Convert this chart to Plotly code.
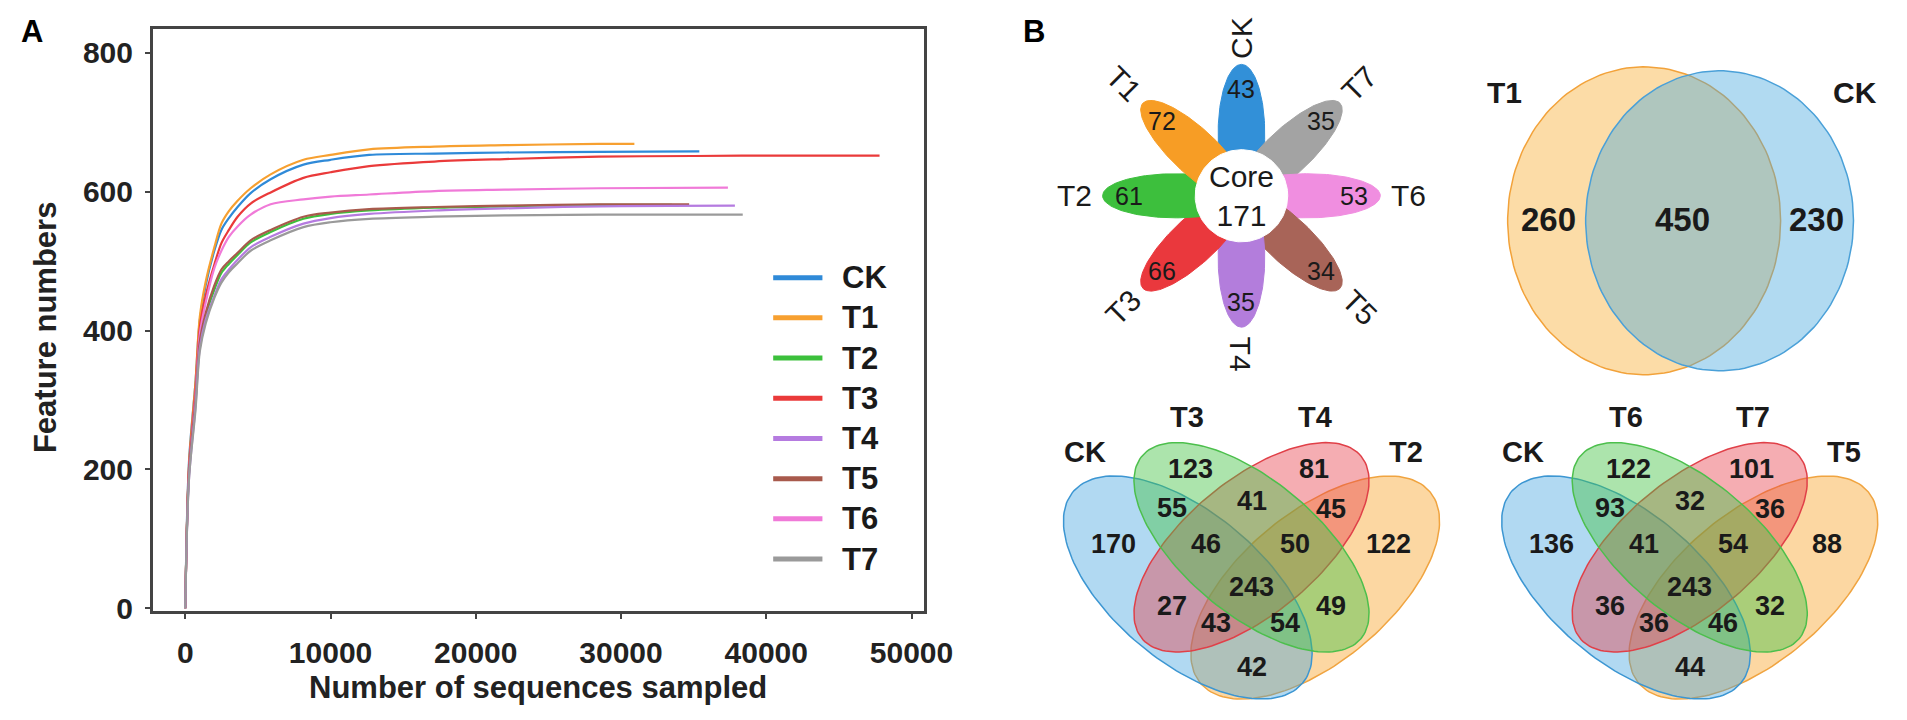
import numpy as np
import plotly.graph_objects as go

W, H = 1907, 720
FONT = "Liberation Sans, Arial, sans-serif"

# ---------------- Panel A data (rarefaction curves) ----------------
series_names = ["CK", "T1", "T2", "T3", "T4", "T5", "T6", "T7"]
series_colors = ["#2f8ad8", "#f7a030", "#3cc03c", "#ea3a3a", "#b57be0", "#a85a4c", "#f07ad8", "#9a9a9a"]

ck_x = [0, 250, 700, 1000, 1400, 2000, 2486, 3000, 3600, 4500, 5876, 8136, 10000, 12660, 17160, 22000, 28476, 35390]
ck_y = [0, 210, 325, 415, 465, 515, 545, 562, 578, 598, 618, 639, 646, 653, 655, 656.5, 657.5, 658]
t1_x = [0, 250, 700, 1000, 1400, 2000, 2486, 3000, 3600, 4500, 5876, 8136, 10000, 12660, 17160, 22000, 28476, 30920]
t1_y = [0, 205, 325, 420, 470, 520, 554, 572, 587, 605, 625, 646, 653, 661, 665, 667, 669, 669]
t2_x = [0, 250, 700, 1000, 1400, 2000, 2486, 3000, 3600, 4500, 5876, 8136, 10000, 12660, 17160, 22000, 28476, 33500]
t2_y = [0, 192, 296, 381, 421, 459, 483, 496, 509, 527, 542, 561, 568, 573, 577, 579, 581, 581]
t3_x = [0, 250, 700, 1000, 1400, 2000, 2486, 3000, 3600, 4500, 5876, 8136, 10000, 12660, 17160, 22000, 28476, 35000, 40000, 47800]
t3_y = [0, 200, 315, 405, 450, 495, 526, 545, 564, 583, 599, 620, 628, 637, 643.5, 647, 650.5, 651.5, 652, 652]
t4_x = [0, 250, 700, 1000, 1400, 2000, 2486, 3000, 3600, 4500, 5876, 8136, 10000, 12660, 17160, 22000, 28476, 37840]
t4_y = [0, 185, 290, 375, 415, 450, 474, 488, 502, 520, 535, 554, 562, 568, 573, 576, 579, 580]
t5_x = [0, 250, 700, 1000, 1400, 2000, 2486, 3000, 3600, 4500, 5876, 8136, 10000, 12660, 17160, 22000, 28476, 34690]
t5_y = [0, 195, 300, 385, 425, 465, 488, 500, 512, 530, 545, 564, 570, 575, 578, 580, 582, 582]
t6_x = [0, 250, 700, 1000, 1400, 2000, 2486, 3000, 3600, 4500, 5876, 8136, 10000, 12660, 17160, 22000, 28476, 37360]
t6_y = [0, 195, 305, 395, 440, 490, 515, 535, 550, 567, 582, 589, 593, 596, 601, 603, 605, 606]
t7_x = [0, 250, 700, 1000, 1400, 2000, 2486, 3000, 3600, 4500, 5876, 8136, 10000, 12660, 17160, 22000, 28476, 38380]
t7_y = [0, 185, 285, 370, 410, 447, 469, 484, 497, 515, 530, 549, 556, 561, 564, 566, 567, 567]

curves = {"CK": (ck_x, ck_y), "T1": (t1_x, t1_y), "T2": (t2_x, t2_y), "T3": (t3_x, t3_y),
          "T4": (t4_x, t4_y), "T5": (t5_x, t5_y), "T6": (t6_x, t6_y), "T7": (t7_x, t7_y)}

x_tick_vals = [0, 10000, 20000, 30000, 40000, 50000]
x_tick_text = ["0", "10000", "20000", "30000", "40000", "50000"]
y_tick_vals = [0, 200, 400, 600, 800]
y_tick_text = ["0", "200", "400", "600", "800"]
x_title = "Number of sequences sampled"
y_title = "Feature numbers"

# ---------------- Panel B data ----------------
flower_groups = ["CK", "T7", "T6", "T5", "T4", "T3", "T2", "T1"]
flower_unique = [43, 35, 53, 34, 35, 66, 61, 72]
flower_colors = ["#3290d8", "#a3a3a3", "#f08ee0", "#a86458", "#b37ddc", "#ea383d", "#3dbf3d", "#f79d25"]
flower_core = 171

venn2_sets = ["T1", "CK"]
venn2_counts = [260, 450, 230]   # T1 only, shared, CK only

region_keys = ["A", "B", "C", "D", "AB", "BC", "CD", "AD", "AC", "BD", "ABC", "BCD", "ACD", "ABD", "ABCD"]
venn4a_sets = ["CK", "T3", "T4", "T2"]
venn4a_counts = [170, 123, 81, 122, 55, 41, 45, 42, 27, 49, 46, 50, 43, 54, 243]
venn4b_sets = ["CK", "T6", "T7", "T5"]
venn4b_counts = [136, 122, 101, 88, 93, 32, 36, 44, 36, 32, 41, 54, 36, 46, 243]

# ---------------- layout helpers (pixel geometry) ----------------
def px(x):
    return x / W


def py(y):
    return 1 - y / H


def ellipse_xy(cx, cy, a, b, ang_deg, n=160):
    t = np.linspace(0, 2 * np.pi, n)
    g = np.deg2rad(ang_deg)
    x = cx + a * np.cos(t) * np.cos(g) - b * np.sin(t) * np.sin(g)
    y = cy + a * np.cos(t) * np.sin(g) + b * np.sin(t) * np.cos(g)
    return x, y


fig = go.Figure()
annotations = []
shapes = []

# ---- Panel A curves ----
for name in ["T2", "CK", "T1", "T3", "T6", "T5", "T4", "T7"]:
    xs, ys = curves[name]
    col = series_colors[series_names.index(name)]
    fig.add_trace(go.Scatter(x=xs, y=ys, mode="lines", name=name, showlegend=False,
                             line=dict(color=col, width=2.2, shape="spline", smoothing=0.9),
                             xaxis="x", yaxis="y", hoverinfo="skip"))

# manual legend
leg_x0, leg_x1, leg_tx, leg_y0, leg_dy = 777, 827, 845, 275, 41
for i, (name, col) in enumerate(zip(series_names, series_colors)):
    yy = leg_y0 + i * leg_dy
    shapes.append(dict(type="line", xref="paper", yref="paper", x0=px(leg_x0), x1=px(leg_x1),
                       y0=py(yy), y1=py(yy), line=dict(color=col, width=5)))
    annotations.append(dict(xref="paper", yref="paper", x=px(leg_tx), y=py(yy), text=name,
                            showarrow=False, xanchor="left", yanchor="middle",
                            font=dict(family=FONT, size=31, color="#1a1a1a", weight="bold")))

# axis titles and panel letters
annotations.append(dict(xref="paper", yref="paper", x=px(538), y=py(693), text=x_title,
                        showarrow=False, xanchor="center", yanchor="middle",
                        font=dict(family=FONT, size=31, color="#222", weight="bold")))
annotations.append(dict(xref="paper", yref="paper", x=px(38), y=py(325), text=y_title,
                        showarrow=False, xanchor="center", yanchor="middle", textangle=-90,
                        font=dict(family=FONT, size=31, color="#222", weight="bold")))
for letter, lx, ly in [("A", 24, 24), ("B", 1042, 24)]:
    annotations.append(dict(xref="paper", yref="paper", x=px(lx), y=py(ly), text=letter,
                            showarrow=False, xanchor="center", yanchor="middle",
                            font=dict(family=FONT, size=31, color="#000", weight="bold")))

# ---- Panel B: flower ----
fcx, fcy = 1252.5, 191.5
fsx, fsy = 141 / 137, 134 / 137
petal_d, petal_a, petal_b = 65, 72, 23
core_r = 47
for grp, val, col, k in zip(flower_groups, flower_unique, flower_colors, range(8)):
    th = np.deg2rad(90 - 45 * k)
    ex, ey = ellipse_xy(petal_d * np.cos(th), -petal_d * np.sin(th), petal_a, petal_b, -np.rad2deg(th))
    fig.add_trace(go.Scatter(x=fcx + ex * fsx, y=fcy + ey * fsy, mode="lines", fill="toself",
                             fillcolor=col, line=dict(color=col, width=1), showlegend=False,
                             hoverinfo="skip", xaxis="x2", yaxis="y2"))
    nr = 111
    annotations.append(dict(xref="x2", yref="y2", x=fcx + nr * np.cos(th) * fsx,
                            y=fcy - nr * np.sin(th) * fsy, text=str(val), showarrow=False,
                            font=dict(family=FONT, size=25, color="#1a1a1a")))
    lr = 165
    deg = 90 - 45 * k
    ang = -deg
    if deg < -90 or deg > 90:
        ang = -(deg - 180) if deg > 90 else -(deg + 180)
    annotations.append(dict(xref="x2", yref="y2", x=fcx + lr * np.cos(th) * fsx,
                            y=fcy - lr * np.sin(th) * fsy, text=grp, showarrow=False,
                            textangle=ang,
                            font=dict(family=FONT, size=30, color="#1a1a1a")))
cx_, cy_ = ellipse_xy(fcx, fcy, core_r, core_r, 0)
fig.add_trace(go.Scatter(x=cx_, y=cy_, mode="lines", fill="toself", fillcolor="white",
                         line=dict(color="white", width=1), showlegend=False, hoverinfo="skip",
                         xaxis="x2", yaxis="y2"))
annotations.append(dict(xref="x2", yref="y2", x=fcx, y=fcy, text="Core<br>" + str(flower_core),
                        showarrow=False, yanchor="middle",
                        font=dict(family=FONT, size=30, color="#1a1a1a")))

# ---- Panel B: 2-set Venn ----
v2_shapes = [((1661.4, 217, 138.6, 157), "rgba(248,178,60,0.45)", "#f2a23a"),
             ((1738.0, 217, 136.0, 153), "rgba(70,168,222,0.42)", "#4aa0d8")]
for (ccx, ccy, rx, ry), fc, lc in v2_shapes:
    ex, ey = ellipse_xy(ccx, ccy, rx, ry, 0)
    fig.add_trace(go.Scatter(x=ex, y=ey, mode="lines", fill="toself", fillcolor=fc,
                             line=dict(color=lc, width=1.5), showlegend=False, hoverinfo="skip",
                             xaxis="x2", yaxis="y2"))
for lab, (lx, ly) in zip(venn2_sets, [(1520, 86), (1876, 86)]):
    annotations.append(dict(xref="x2", yref="y2", x=lx, y=ly, text=lab, showarrow=False,
                            font=dict(family=FONT, size=30, color="#1a1a1a", weight="bold")))
for val, (lx, ly) in zip(venn2_counts, [(1564, 216), (1700, 216), (1836, 216)]):
    annotations.append(dict(xref="x2", yref="y2", x=lx, y=ly, text=str(val), showarrow=False,
                            font=dict(family=FONT, size=33, color="#1a1a1a", weight="bold")))

# ---- Panel B: 4-set Venns ----
ell_geom = {"A": (-64.7, 41, 152, 76, 40), "B": (0, 0, 145, 68, 40),
            "C": (0, 0, 145, 68, -40), "D": (64.7, 41, 152, 76, -40)}
ell_fill = {"A": "rgba(60,160,222,0.40)", "B": "rgba(70,195,70,0.45)",
            "C": "rgba(232,60,72,0.42)", "D": "rgba(248,172,60,0.48)"}
ell_line = {"A": "#3c96d2", "B": "#4cbf4c", "C": "#e04048", "D": "#f0a440"}
draw_seq = ["D", "A", "C", "B"]
region_pos = {"A": (-140, -3), "B": (-62, -80), "C": (63, -80), "D": (139, -3),
              "AB": (-81, -40), "BC": (0, -47), "CD": (81, -39), "AD": (0, 122),
              "AC": (-81, 60), "BD": (81, 60), "ABC": (-46, -3), "BCD": (44, -3),
              "ACD": (-36, 77), "ABD": (34, 77), "ABCD": (0, 40)}
set_label_pos = [(-169, -97), (-65, -133), (64, -133), (157, -97)]

for (vcx, vcy), sets, counts in [((1262.7, 550), venn4a_sets, venn4a_counts),
                                 ((1707.7, 550), venn4b_sets, venn4b_counts)]:
    for key in draw_seq:
        dx, dy, a, b, g = ell_geom[key]
        ex, ey = ellipse_xy(vcx + dx, vcy + dy, a, b, g)
        fig.add_trace(go.Scatter(x=ex, y=ey, mode="lines", fill="toself", fillcolor=ell_fill[key],
                                 line=dict(color=ell_line[key], width=1.5), showlegend=False,
                                 hoverinfo="skip", xaxis="x2", yaxis="y2"))
    for lab, (dx, dy) in zip(sets, set_label_pos):
        annotations.append(dict(xref="x2", yref="y2", x=vcx + dx, y=vcy + dy, text=lab,
                                showarrow=False,
                                font=dict(family=FONT, size=29, color="#1a1a1a", weight="bold")))
    for key, val in zip(region_keys, counts):
        dx, dy = region_pos[key]
        annotations.append(dict(xref="x2", yref="y2", x=vcx + dx, y=vcy + dy, text=str(val),
                                showarrow=False,
                                font=dict(family=FONT, size=27, color="#1a1a1a", weight="bold")))

axis_common = dict(showline=True, mirror=True, linewidth=2.5, linecolor="#444",
                   ticks="outside", ticklen=5, tickwidth=2, tickcolor="#444",
                   showgrid=False, zeroline=False,
                   tickfont=dict(family=FONT, size=30, color="#222", weight="bold"))

fig.update_layout(
    width=W, height=H, autosize=False,
    margin=dict(l=0, r=0, t=0, b=0),
    paper_bgcolor="white", plot_bgcolor="white",
    showlegend=False,
    xaxis=dict(domain=[px(147), px(930)], range=[-2240, 50850], anchor="y",
               tickvals=x_tick_vals, ticktext=x_tick_text, ticklabelstandoff=8, **axis_common),
    yaxis=dict(domain=[py(615), py(21)], range=[-4, 835], anchor="x",
               tickvals=y_tick_vals, ticktext=y_tick_text, ticklabelstandoff=6, **axis_common),
    xaxis2=dict(domain=[px(953.5), 1], range=[953.5, 1907], anchor="y2", visible=False,
                fixedrange=True),
    yaxis2=dict(domain=[0, 1], range=[720, 0], anchor="x2", visible=False, fixedrange=True),
    annotations=annotations,
    shapes=shapes,
)

fig.write_html("out.html")
